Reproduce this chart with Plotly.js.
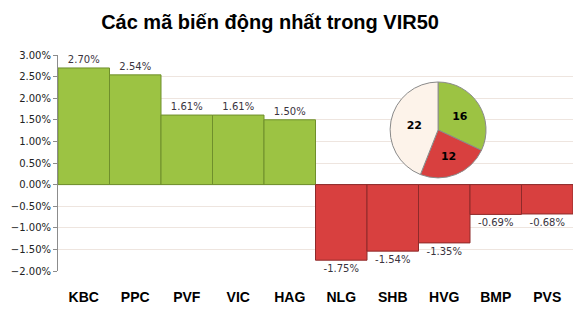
<!DOCTYPE html>
<html><head><meta charset="utf-8">
<script src="https://cdn.plot.ly/plotly-3.0.1.min.js"></script>
<style>html,body{margin:0;padding:0;background:#fff}#c{width:577px;height:315px}</style>
</head><body><div id="c"></div>
<script>
const categories = ['KBC','PPC','PVF','VIC','HAG','NLG','SHB','HVG','BMP','PVS'];
const changes = [0.0270, 0.0254, 0.0161, 0.0161, 0.0150, -0.0175, -0.0154, -0.0135, -0.0069, -0.0068];
const pieLabels = ['Tăng','Giảm','Đứng giá'];
const pieValues = [16, 12, 22];
const yTicks = [-0.02,-0.015,-0.01,-0.005,0,0.005,0.01,0.015,0.02,0.025,0.03];

const barColors = changes.map(v => v >= 0 ? '#9cc343' : '#d8403f');
const barLines = changes.map(v => v >= 0 ? '#6f8f2c' : '#8e2a2a');

const data = [
  {type:'bar', x:categories, y:changes, width:1,
   marker:{color:barColors, line:{color:barLines, width:1}},
   texttemplate:'%{y:.2%}', textposition:'outside', cliponaxis:false,
   textfont:{family:'DejaVu Sans', size:10, color:'#3a3440'}, hoverinfo:'none'},
  {type:'pie', labels:pieLabels, values:pieValues, sort:false, direction:'clockwise', rotation:0,
   domain:{x:[0.641,0.835], y:[0.431,0.875]},
   marker:{colors:['#9cc343','#d8403f','#fdf3ea'], line:{color:'#8a8a8a', width:1}},
   textinfo:'value', textposition:'inside', insidetextorientation:'horizontal',
   textfont:{family:'DejaVu Sans', size:11, color:'#000', weight:'bold'},
   showlegend:false, hoverinfo:'none'}
];

const layout = {
  width:577, height:315, margin:{l:58, r:4, t:55, b:44},
  paper_bgcolor:'#fff', plot_bgcolor:'#fff', showlegend:false, bargap:0,
  title:{text:'Các mã biến động nhất trong VIR50', x:0.468, xanchor:'center', y:0.93, yanchor:'middle',
         font:{family:'Liberation Sans, Arial', size:20, color:'#000', weight:'bold'}},
  xaxis:{type:'category', showgrid:false, showline:false, zeroline:false, ticks:'',
         ticklabelstandoff:16,
         tickfont:{family:'Liberation Sans, Arial', size:14, color:'#000', weight:'bold'}},
  yaxis:{range:[-0.02,0.03], tickvals:yTicks, tickformat:'.2%',
         showgrid:true, gridcolor:'#eee5df', gridwidth:1,
         zeroline:true, zerolinecolor:'#9a9a9a', zerolinewidth:1,
         showline:true, linecolor:'#8c8c8c', linewidth:1, ticks:'outside', ticklen:4, tickcolor:'#8c8c8c',
         tickfont:{family:'DejaVu Sans', size:10, color:'#222'}}
};

Plotly.newPlot('c', data, layout, {displayModeBar:false, staticPlot:true});
</script></body></html>
